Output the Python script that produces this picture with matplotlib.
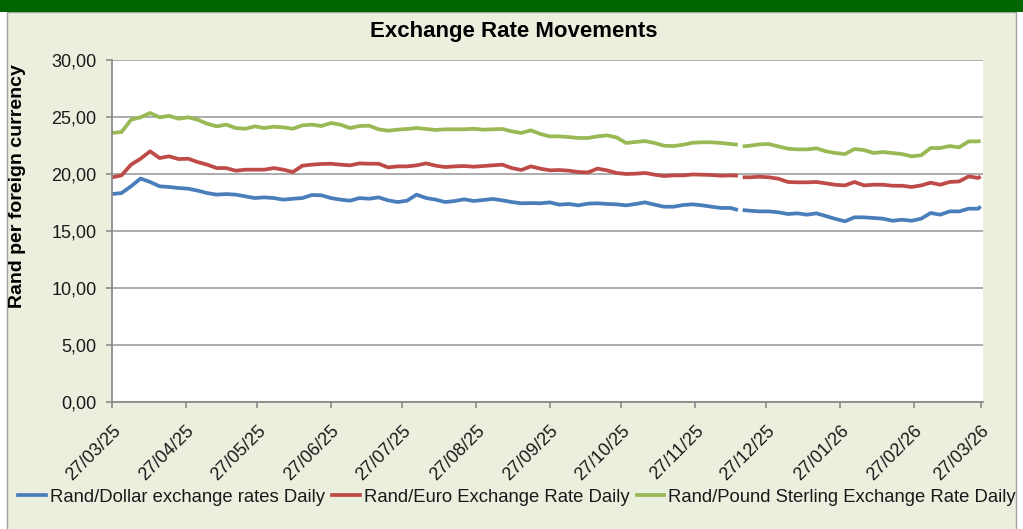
import numpy as np
import pandas as pd
import matplotlib
matplotlib.use("Agg")
import matplotlib.pyplot as plt
from matplotlib.patches import Rectangle
from matplotlib.lines import Line2D
from matplotlib.transforms import ScaledTranslation
import matplotlib.ticker as mticker

plt.rcParams['font.family'] = ['Liberation Sans', 'DejaVu Sans']

# ---------------- data ----------------
start_date = "2025-03-27"
day_offsets = list(range(0, 261, 4)) + [263, 264, 265] + list(range(268, 365, 4)) + [365]

usd = [18.24, 18.33, 18.92, 19.6, 19.3, 18.92, 18.86, 18.77, 18.71, 18.54, 18.33, 18.19, 18.24, 18.19, 18.04, 17.89,
       17.95, 17.89, 17.75, 17.83, 17.89, 18.16, 18.13, 17.89, 17.75, 17.66, 17.89, 17.83, 17.95, 17.69, 17.54,
       17.66, 18.19, 17.89, 17.75, 17.54, 17.63, 17.78, 17.63, 17.72, 17.81, 17.69, 17.54, 17.43, 17.45, 17.43, 17.51,
       17.31, 17.37, 17.25, 17.40, 17.43, 17.37, 17.34, 17.25, 17.37, 17.51, 17.31, 17.13, 17.13, 17.28,
       17.34, 17.25, 17.13, 17.02, 17.02, 16.84, np.nan, 16.84, 16.78, 16.72, 16.72, 16.64, 16.49, 16.55, 16.43, 16.55, 16.31,
       16.06, 15.85, 16.20, 16.20, 16.14, 16.08, 15.90, 15.99, 15.90, 16.08, 16.58, 16.43, 16.72, 16.72, 16.96, 16.96, 17.16]

eur = [19.70, 19.88, 20.82, 21.34, 21.99, 21.40, 21.55, 21.31, 21.34, 21.05, 20.82, 20.52, 20.52, 20.29, 20.38, 20.38,
       20.38, 20.52, 20.38, 20.17, 20.73, 20.82, 20.88, 20.90, 20.82, 20.76, 20.93, 20.90, 20.90, 20.58, 20.67,
       20.67, 20.76, 20.93, 20.73, 20.61, 20.67, 20.70, 20.64, 20.70, 20.76, 20.82, 20.52, 20.35, 20.67, 20.47, 20.32,
       20.35, 20.29, 20.17, 20.14, 20.47, 20.32, 20.09, 20.00, 20.03, 20.09, 19.94, 19.82, 19.88, 19.88,
       19.96, 19.94, 19.91, 19.85, 19.88, 19.85, np.nan, 19.71, 19.71, 19.76, 19.71, 19.59, 19.30, 19.27, 19.27, 19.30, 19.18,
       19.05, 19.00, 19.30, 19.00, 19.06, 19.06, 18.97, 18.97, 18.86, 19.00, 19.24, 19.06, 19.30, 19.35, 19.79, 19.65, 19.79]

gbp = [23.60, 23.68, 24.76, 24.97, 25.35, 24.97, 25.10, 24.85, 24.97, 24.76, 24.41, 24.18, 24.33, 24.03, 23.97, 24.18,
       24.03, 24.15, 24.09, 23.97, 24.27, 24.33, 24.21, 24.47, 24.33, 24.03, 24.21, 24.24, 23.92, 23.80, 23.89,
       23.95, 24.03, 23.95, 23.86, 23.92, 23.92, 23.92, 23.97, 23.89, 23.92, 23.95, 23.74, 23.60, 23.83, 23.51, 23.30,
       23.30, 23.24, 23.16, 23.16, 23.30, 23.39, 23.21, 22.72, 22.81, 22.89, 22.72, 22.48, 22.45, 22.57,
       22.74, 22.78, 22.78, 22.72, 22.63, 22.57, np.nan, 22.42, 22.48, 22.60, 22.63, 22.42, 22.22, 22.16, 22.16, 22.25, 21.99,
       21.84, 21.75, 22.19, 22.10, 21.84, 21.93, 21.84, 21.75, 21.55, 21.64, 22.28, 22.28, 22.45, 22.34, 22.86, 22.86, 22.92]

series_labels = ["Rand/Dollar exchange rates Daily",
                 "Rand/Euro Exchange Rate Daily",
                 "Rand/Pound Sterling Exchange Rate Daily"]
series_colors = ["#4a7ebb", "#be4b48", "#98b954"]
title = "Exchange Rate Movements"
ylabel = "Rand per foreign currency"
y_ticks = [0, 5, 10, 15, 20, 25, 30]

# ---------------- figure ----------------
W, H = 1023, 529
fig = plt.figure(figsize=(W / 100, H / 100), dpi=100, facecolor="white")

bg = Rectangle((7 / W, -0.01), (1016 - 7) / W, (H - 12) / H + 0.01,
               transform=fig.transFigure, facecolor="#ebf0de",
               edgecolor="#a0a0a0", lw=1.0, zorder=-10)
band = Rectangle((0, 1 - 12 / H), 1, 12 / H, transform=fig.transFigure,
                 facecolor="#006400", edgecolor="none", zorder=-9)
fig.patches.extend([bg, band])

ax = fig.add_axes([112 / W, 1 - 402 / H, 871 / W, 342 / H])
ax.set_facecolor("white")

start = pd.Timestamp(start_date)
dates = start + pd.to_timedelta(day_offsets, unit="D")

for vals, col in zip([usd, eur, gbp], series_colors):
    ax.plot(dates, vals, color=col, lw=2.7, solid_capstyle="butt", solid_joinstyle="round")

ax.set_ylim(0, 30)
ax.set_yticks(y_ticks)
ax.yaxis.set_major_formatter(mticker.FuncFormatter(lambda v, p: f"{v:.2f}".replace(".", ",")))
ax.set_xlim(start, start + pd.Timedelta(days=366))
xt = [start + pd.DateOffset(months=i) for i in range(13)]
ax.set_xticks(xt)
ax.set_xticklabels([d.strftime("%d/%m/%y") for d in xt], rotation=45, ha="right",
                   va="center", rotation_mode="anchor")

ax.yaxis.grid(True, color="#a6a6a6", lw=1.3)
ax.set_axisbelow(True)
for s in ["top", "right"]:
    ax.spines[s].set_visible(False)
for s in ["left", "bottom"]:
    ax.spines[s].set_color("#8c8c8c")
    ax.spines[s].set_linewidth(1.3)

ax.tick_params(axis="y", length=4, width=1.2, color="#8c8c8c", pad=7,
               labelsize=13, labelcolor="#1a1a1a")
ax.tick_params(axis="x", length=4, width=1.2, color="#8c8c8c", pad=15,
               labelsize=13, labelcolor="#1a1a1a")
off = ScaledTranslation(6 / 100, 0, fig.dpi_scale_trans)
for lab in ax.get_xticklabels():
    lab.set_transform(lab.get_transform() + off)

fig.text(514 / W, 1 - 32 / H, title, fontsize=16, fontweight="bold",
         ha="center", va="center", color="#000000")
fig.text(18 / W, 1 - 186 / H, ylabel, fontsize=14, fontweight="bold",
         rotation=90, ha="center", va="center", color="#000000")

handles = [Line2D([], [], color=c, lw=2.7) for c in series_colors]
fig.legend(handles, series_labels, loc="center", bbox_to_anchor=(517 / W, 1 - 497 / H),
           ncol=3, frameon=False, fontsize=13.3, handlelength=1.5, handletextpad=0.2,
           columnspacing=0.4, borderpad=0, borderaxespad=0, labelcolor="#1a1a1a")

fig.savefig("out.png", dpi=100, facecolor=fig.get_facecolor())
